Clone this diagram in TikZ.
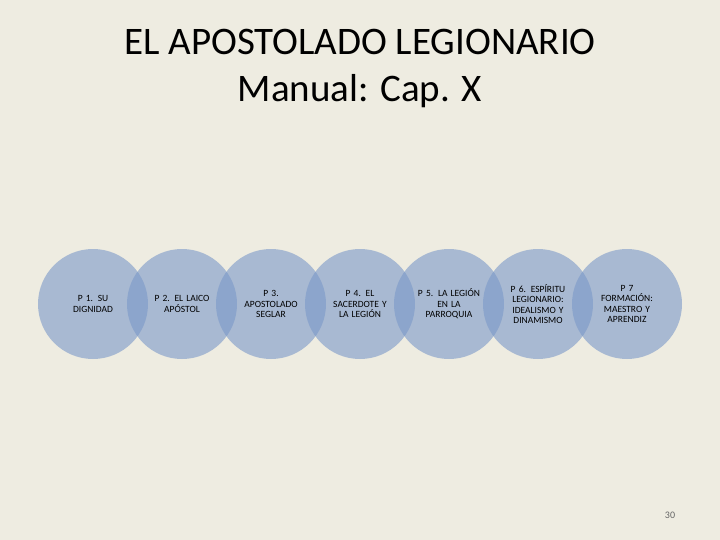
\documentclass[tikz,border=0pt]{standalone}
\usepackage{fontspec}
\setmainfont{Carlito}
\definecolor{bg}{HTML}{EEECE1}
\definecolor{cf}{HTML}{7A98C8}
\begin{document}
\begin{tikzpicture}[x=1pt,y=-1pt,
  circ/.style={circle,minimum size=110pt,inner sep=0pt,fill=cf,fill opacity=0.6,text opacity=1},
  lbl/.style={font=\fontsize{9.5}{10.5}\selectfont,align=center,text width=72pt,text=black}]
\fill[bg] (0,0) rectangle (720,540);
\node[font=\fontsize{39}{47}\selectfont,align=center] (title) at (360,68) {EL APOSTOLADO LEGIONARIO\\Manual: Cap. X};
\foreach \i in {0,...,6}
  \node[circ] (c\i) at ({93+89*\i},304) {};
\foreach \i/\t in {0/{P 1. SU\\DIGNIDAD},1/{P 2. EL LAICO\\APÓSTOL},2/{P 3.\\APOSTOLADO\\SEGLAR},3/{P 4. EL\\SACERDOTE Y\\LA LEGIÓN},4/{P 5. LA LEGIÓN\\EN LA\\PARROQUIA},5/{P 6. ESPÍRITU\\LEGIONARIO:\\IDEALISMO Y\\DINAMISMO},6/{P 7\\FORMACIÓN:\\MAESTRO Y\\APRENDIZ}}
  \node[lbl] (t\i) at ({93+89*\i},304) {\t};
\node[font=\fontsize{10}{12}\selectfont,text=black!60] (pg) at (670,515) {30};
\end{tikzpicture}
\end{document}
